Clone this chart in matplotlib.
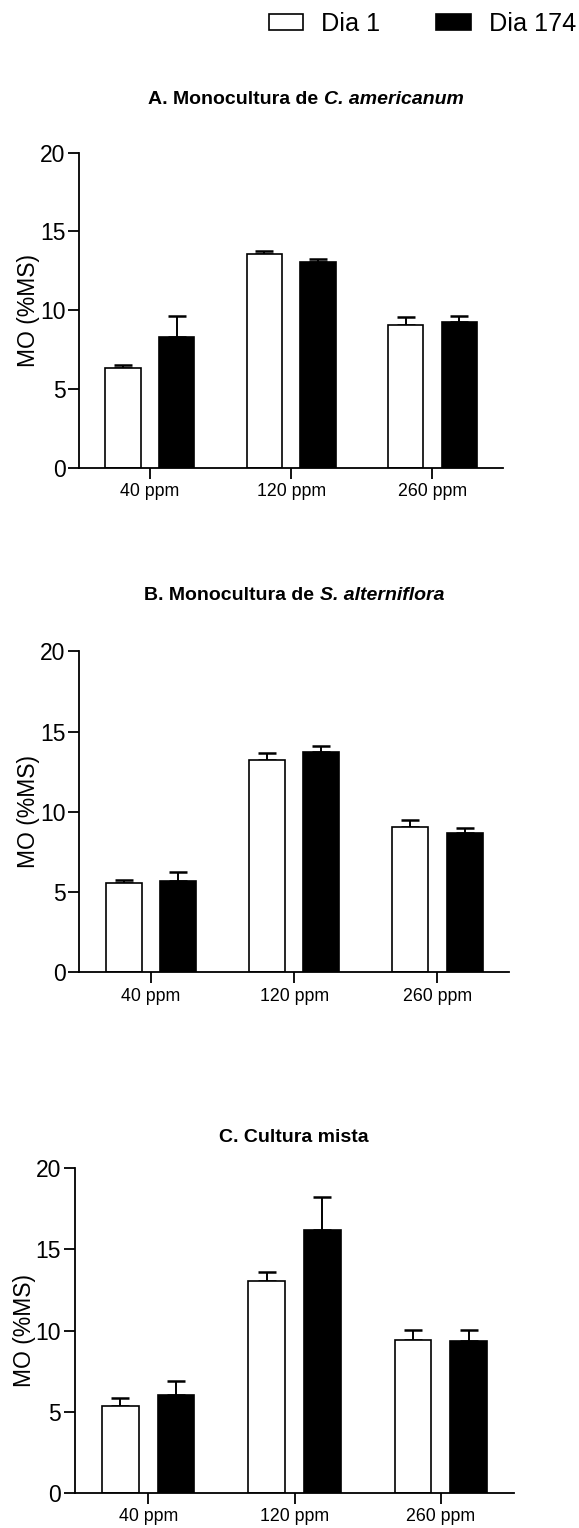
import numpy as np
import matplotlib
matplotlib.use("Agg")
import matplotlib.pyplot as plt
from matplotlib.patches import Patch

plt.rcParams["font.family"] = ["Liberation Sans", "DejaVu Sans"]

# Organic matter (MO, % dry mass) by CO2 treatment, day 1 vs day 174
categories = ["40 ppm", "120 ppm", "260 ppm"]
series_labels = ["Dia 1", "Dia 174"]

a_dia1 = [6.30, 13.60, 9.05]
a_dia1_err = [0.25, 0.15, 0.55]
a_dia174 = [8.30, 13.05, 9.25]
a_dia174_err = [1.35, 0.22, 0.40]

b_dia1 = [5.55, 13.25, 9.05]
b_dia1_err = [0.20, 0.42, 0.45]
b_dia174 = [5.70, 13.75, 8.70]
b_dia174_err = [0.55, 0.35, 0.30]

c_dia1 = [5.35, 13.05, 9.40]
c_dia1_err = [0.50, 0.58, 0.65]
c_dia174 = [6.00, 16.20, 9.35]
c_dia174_err = [0.90, 2.00, 0.70]

y_ticks = [0, 5, 10, 15, 20]
y_label = "MO (%MS)"

panels = [
    dict(title=("A. Monocultura de", "C. americanum"),
         d1=a_dia1, e1=a_dia1_err, d2=a_dia174, e2=a_dia174_err,
         rect_px=(79.3, 152.7, 503.0, 467.7), title_px=(306, 99)),
    dict(title=("B. Monocultura de", "S. alterniflora"),
         d1=b_dia1, e1=b_dia1_err, d2=b_dia174, e2=b_dia174_err,
         rect_px=(79.3, 651.3, 509.0, 972.3), title_px=(294, 596)),
    dict(title=("C. Cultura mista", None),
         d1=c_dia1, e1=c_dia1_err, d2=c_dia174, e2=c_dia174_err,
         rect_px=(75.0, 1168.3, 514.0, 1492.7), title_px=(294, 1138)),
]

W, H, DPI = 579, 1528, 100
fig = plt.figure(figsize=(W / DPI, H / DPI), dpi=DPI)
fig.patch.set_facecolor("white")

bar_w = 0.25
offset = 0.19
x = np.arange(len(categories))


def px_rect(l, t, r, b):
    return [l / W, 1 - b / H, (r - l) / W, (b - t) / H]


for p in panels:
    ax = fig.add_axes(px_rect(*p["rect_px"]))
    for vals, errs, dx, face in ((p["d1"], p["e1"], -offset, "white"),
                                 (p["d2"], p["e2"], offset, "black")):
        ax.bar(x + dx, vals, width=bar_w, color=face, edgecolor="black",
               linewidth=1.2, zorder=2)
        ax.errorbar(x + dx, vals, yerr=[np.zeros(len(vals)), errs],
                    fmt="none", ecolor="black", elinewidth=1.4,
                    capsize=6.8, capthick=1.8, zorder=1)
    ax.set_xlim(-0.5, 2.5)
    ax.set_ylim(0, 20)
    ax.set_yticks(y_ticks)
    ax.set_yticklabels([str(t) for t in y_ticks], fontsize=16.5)
    ax.set_xticks(x)
    ax.set_xticklabels(categories, fontsize=12.8)
    for s in ("top", "right"):
        ax.spines[s].set_visible(False)
    for s in ("left", "bottom"):
        ax.spines[s].set_linewidth(1.3)
    ax.tick_params(axis="both", direction="out", length=8, width=1.3,
                   color="black")
    ax.tick_params(axis="y", pad=2)
    ax.tick_params(axis="x", pad=3)
    ax.set_facecolor("white")

    l, t, r, b = p["rect_px"]
    fig.text((l - 51) / W, 1 - ((t + b) / 2) / H, y_label, rotation=90,
             ha="center", va="center", fontsize=16.5)

# Panel titles: bold text with an italic bold species name
renderer = fig.canvas.get_renderer()
for p in panels:
    normal, ital = p["title"]
    xc, yc = p["title_px"]
    t1 = fig.text(0, 1 - yc / H, normal, fontsize=14, fontweight="bold",
                  ha="left", va="center")
    pieces = [t1]
    gap = 6.0
    if ital:
        t2 = fig.text(0, 1 - yc / H, ital, fontsize=14, fontweight="bold",
                      fontstyle="italic", ha="left", va="center")
        pieces.append(t2)
    widths = [pc.get_window_extent(renderer).width for pc in pieces]
    total = sum(widths) + gap * (len(pieces) - 1)
    cur = xc - total / 2
    for pc, w in zip(pieces, widths):
        pc.set_x(cur / W)
        cur += w + gap

handles = [Patch(facecolor="white", edgecolor="black", linewidth=1.2),
           Patch(facecolor="black", edgecolor="black", linewidth=1.2)]
fig.legend(handles, series_labels, loc="center right",
           bbox_to_anchor=(576 / W, 1 - 24 / H), ncol=2, frameon=False,
           fontsize=18.2, handlelength=1.36, handleheight=0.62,
           handletextpad=0.72, columnspacing=2.2, borderpad=0,
           borderaxespad=0)

fig.savefig("out.png", dpi=DPI, facecolor="white")
